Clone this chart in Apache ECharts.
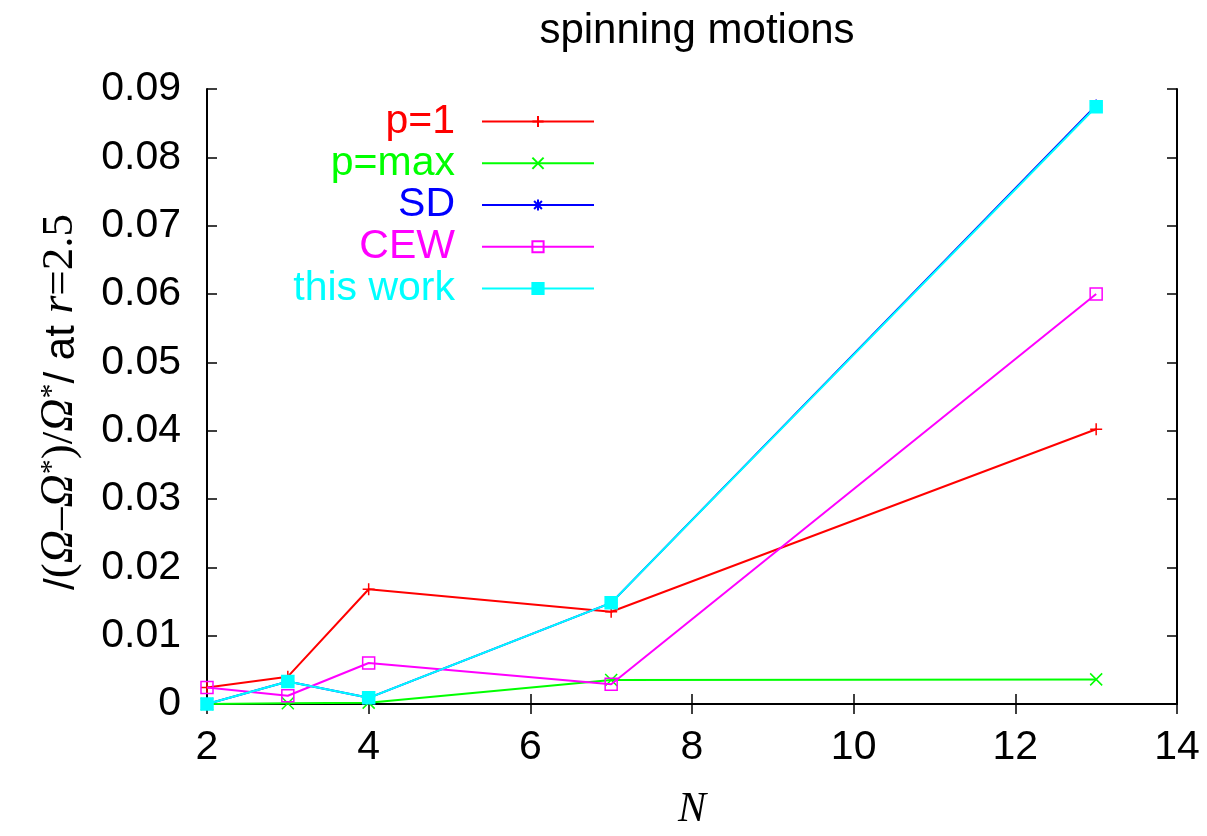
<!DOCTYPE html>
<html>
<head>
<meta charset="utf-8">
<script src="https://cdn.jsdelivr.net/npm/echarts@6/dist/echarts.min.js"></script>
<style>html,body{margin:0;padding:0;background:#fff;overflow:hidden}#c{width:1207px;height:836px}</style>
</head>
<body>
<div id="c"></div>
<script>
// ---- data ----
const N = [2, 3, 4, 7, 13];
const p1 = [0.0024, 0.0040, 0.0168, 0.0135, 0.0402];
const pmax = [0.0000, 0.0001, 0.0002, 0.0035, 0.0036];
const sd = [0.0000, 0.0033, 0.0009, 0.0148, 0.0876];
const cew = [0.0024, 0.0012, 0.0060, 0.0029, 0.0600];
const thisWork = [0.0000, 0.0033, 0.0009, 0.0148, 0.0874];
const seriesNames = ['p=1', 'p=max', 'SD', 'CEW', 'this work'];
const xTicks = [2, 4, 6, 8, 10, 12, 14];
const yTicks = [0, 0.01, 0.02, 0.03, 0.04, 0.05, 0.06, 0.07, 0.08, 0.09];

const SANS = "'Liberation Sans', Arial, Helvetica, sans-serif";
const SERIF = "'Liberation Serif', 'Times New Roman', serif";
const colors = ['#ff0000', '#00ff00', '#0000ff', '#ff00ff', '#00ffff'];
const symbols = [
  'path://M5,0 L5,10 M0,5 L10,5',
  'path://M0,0 L10,10 M10,0 L0,10',
  'path://M5,0 L5,10 M0,5 L10,5 M1.5,1.5 L8.5,8.5 M8.5,1.5 L1.5,8.5',
  'path://M0,0 L10,0 L10,10 L0,10 Z',
  'rect'
];
const fills = ['#ff0000', '#00ff00', '#0000ff', 'rgba(0,0,0,0)', '#00ffff'];
const values = [p1, pmax, sd, cew, thisWork];

const pairs = arr => N.map((n, i) => [n, arr[i]]);

const chart = echarts.init(document.getElementById('c'), null, {renderer: 'canvas', width: 1207, height: 836});

const axisLine = {show: true, lineStyle: {color: '#000', width: 2}};
const tick = {show: true, inside: true, length: 10, lineStyle: {color: '#000', width: 1.5}};

const option = {
  backgroundColor: '#fff',
  animation: false,
  title: {
    text: 'spinning motions',
    left: 692, top: 5, textAlign: 'center',
    textStyle: {fontFamily: SANS, fontSize: 42, fontWeight: 'normal', color: '#000'}
  },
  grid: {left: 207, width: 970, top: 89, height: 628, containLabel: false},
  legend: {
    orient: 'vertical', align: 'right',
    right: 612, top: 101, padding: 0,
    itemWidth: 112, itemHeight: 14, itemGap: 0.75,
    selectedMode: false,
    textStyle: {fontFamily: SANS, fontSize: 41, lineHeight: 41, padding: [0, 22, 0, 0]},
    data: seriesNames.map((n, i) => ({name: n, textStyle: {color: colors[i]}}))
  },
  xAxis: [{
    type: 'value', min: 2, max: 14, interval: 2, position: 'bottom',
    axisLine, axisTick: tick, splitLine: {show: false},
    axisLabel: {fontFamily: SANS, fontSize: 41, color: '#000', margin: 23,
      formatter: v => xTicks.includes(v) ? String(v) : ''},
    name: 'N', nameLocation: 'middle', nameGap: 85,
    nameTextStyle: {fontFamily: SERIF, fontStyle: 'italic', fontSize: 42, color: '#000'}
  }, {
    type: 'value', min: 2, max: 14, interval: 2, position: 'top',
    axisLine, axisTick: tick, splitLine: {show: false}, axisLabel: {show: false}
  }],
  yAxis: [{
    type: 'value', min: 0, max: 0.09, interval: 0.01, position: 'left',
    axisLine, axisTick: tick, splitLine: {show: false},
    axisLabel: {fontFamily: SANS, fontSize: 41, color: '#000', margin: 26,
      formatter: v => { const t = yTicks.find(y => Math.abs(y - v) < 1e-9); return t === undefined ? '' : String(t); }}
  }, {
    type: 'value', min: 0, max: 0.09, interval: 0.01, position: 'right',
    axisLine, axisTick: tick, splitLine: {show: false}, axisLabel: {show: false}
  }],
  graphic: [{
    type: 'text', x: 60, y: 402, rotation: Math.PI / 2,
    style: {
      text: '{a|/}{p|(}{o|Ω}{p|–}{o|Ω}{s|*}{p|)/}{o|Ω}{s|*}{a|/ at }{o|r}{p|=2.5}',
      align: 'center', verticalAlign: 'middle',
      rich: {
        a: {fontFamily: SANS, fontSize: 42, fill: '#000', verticalAlign: 'bottom'},
        p: {fontFamily: SERIF, fontSize: 45, fill: '#000', verticalAlign: 'bottom'},
        o: {fontFamily: SERIF, fontStyle: 'italic', fontSize: 46, fill: '#000', verticalAlign: 'bottom'},
        s: {fontFamily: SERIF, fontSize: 30, fill: '#000', verticalAlign: 'top'}
      }
    }
  }],
  series: seriesNames.map((name, i) => ({
    name, type: 'line', data: pairs(values[i]),
    symbol: symbols[i], symbolSize: 12,
    showSymbol: true, clip: false, z: 2 + i,
    lineStyle: {color: colors[i], width: 2},
    itemStyle: {color: fills[i], borderColor: colors[i], borderWidth: 1.5}
  }))
};
chart.setOption(option);
</script>
</body>
</html>
